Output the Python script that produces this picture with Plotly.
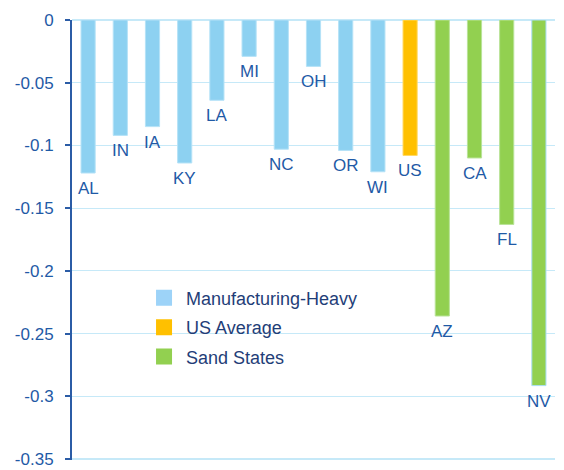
import plotly.graph_objects as go

states = ["AL", "IN", "IA", "KY", "LA", "MI", "NC", "OH", "OR", "WI", "US", "AZ", "CA", "FL", "NV"]
values = [-0.122, -0.092, -0.085, -0.114, -0.064, -0.029, -0.103, -0.037, -0.104, -0.121,
          -0.108, -0.236, -0.110, -0.163, -0.2915]
groups = ["Manufacturing-Heavy"] * 10 + ["US Average"] + ["Sand States"] * 4
group_names = ["Manufacturing-Heavy", "US Average", "Sand States"]
group_colors = {"Manufacturing-Heavy": "#8DD1F1", "US Average": "#FFC000", "Sand States": "#92D050"}
legend_colors = {"Manufacturing-Heavy": "#9DD3F8", "US Average": "#FFC000", "Sand States": "#92D050"}
edge_colors = {"Manufacturing-Heavy": "#B5E2F7", "US Average": "#FFD966", "Sand States": "#B9E398"}
yticks = [0, -0.05, -0.1, -0.15, -0.2, -0.25, -0.3, -0.35]
ytick_text = ["0", "-0.05", "-0.1", "-0.15", "-0.2", "-0.25", "-0.3", "-0.35"]

label_color = "#1F5AA6"
grid_color = "#C6E9F8"
fig = go.Figure()

for g in group_names:
    xs = [s for s, gg in zip(states, groups) if gg == g]
    ys = [v for v, gg in zip(values, groups) if gg == g]
    edges = [("#A9DDF5" if s == "NV" else edge_colors[g]) for s in xs]
    fig.add_trace(go.Bar(
        x=xs, y=ys, name=g, width=0.44,
        marker=dict(color=group_colors[g], line=dict(color=edges, width=1)),
        showlegend=False, hoverinfo="x+y",
    ))

for i, g in enumerate(group_names):
    fig.add_trace(go.Scatter(
        x=[None], y=[None], mode="markers", name=g, legendgroup=g,
        marker=dict(symbol="square", size=17, color=legend_colors[g]),
    ))

for s, v in zip(states, values):
    fig.add_annotation(x=s, y=v, text=s, showarrow=False, yanchor="top", yshift=-4,
                       font=dict(size=17, color=label_color, family="Liberation Sans, Arial"))

# bottom gridline at the axis minimum
fig.add_hline(y=yticks[-1], line=dict(color=grid_color, width=2), layer="below")

# page body has an 8px margin: figure is sized/offset to compensate
fig.update_layout(
    width=556, height=462,
    margin=dict(l=64, r=9, t=12, b=10, autoexpand=False),
    plot_bgcolor="white", paper_bgcolor="white",
    barmode="overlay",
    font=dict(family="Liberation Sans, Arial", color=label_color),
    legend=dict(x=0.145, y=0.41, xanchor="left", yanchor="top",
                font=dict(size=18, color="#1F3E78", family="Liberation Sans, Arial"),
                tracegroupgap=3, bgcolor="rgba(0,0,0,0)", itemwidth=34),
    xaxis=dict(categoryorder="array", categoryarray=states, showticklabels=False,
               showgrid=False, zeroline=False, showline=False, range=[-0.5, 14.5],
               automargin=False),
    yaxis=dict(range=[-0.3508, 0], tickvals=yticks, ticktext=ytick_text,
               tickfont=dict(size=17, color=label_color),
               showgrid=True, gridcolor=grid_color, gridwidth=1,
               zeroline=True, zerolinecolor=grid_color, zerolinewidth=2,
               showline=True, linecolor="#2B5CA6", linewidth=2,
               ticks="outside", ticklen=5, tickcolor="#2B5CA6", tickwidth=2,
               ticklabelstandoff=8, ticklabeloverflow="allow", automargin=False),
)

fig.write_html("out.html")
